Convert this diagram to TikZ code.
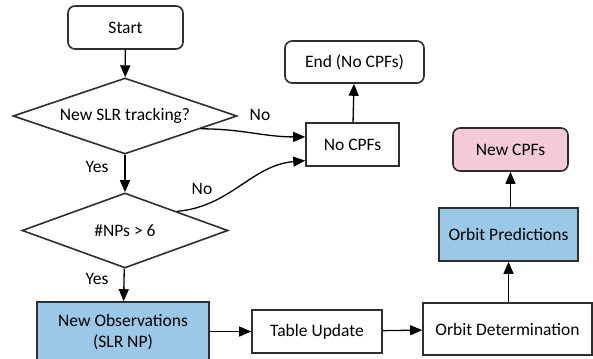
\documentclass[tikz,border=0pt]{standalone}
\usepackage{fontspec}
\setmainfont{Carlito}
\usetikzlibrary{shapes.geometric,arrows.meta,calc}
\definecolor{boxblue}{HTML}{9BC8E6}
\definecolor{boxpink}{HTML}{F2CAD8}
\definecolor{edgegray}{HTML}{2E2E2E}
\begin{document}
\begin{tikzpicture}[x=1pt,y=-1pt,
  font=\fontsize{17.5}{21}\selectfont,
  base/.style={draw=edgegray,line width=1.6pt,inner sep=0pt,align=center},
  rbox/.style={base,rounded corners=7pt,rectangle},
  sbox/.style={base,rectangle},
  dbox/.style={base,diamond,aspect=3},
  conn/.style={line width=1.3pt,-{Triangle[length=12pt,width=10pt]}},
  lbl/.style={inner sep=0pt}]
\clip (0,0) rectangle (593,358);
\fill[white] (0,0) rectangle (593,358);
\node[rbox,minimum width=115,minimum height=43] (start) at (125.5,27.5) {Start};
\node[dbox,minimum width=224,minimum height=76] (d1) at (125,116) {New SLR tracking?};
\node[dbox,minimum width=206,minimum height=75] (d2) at (125,230.5) {\#NPs > 6};
\node[rbox,minimum width=139,minimum height=42] (endn) at (354.5,62) {End (No CPFs)};
\node[sbox,minimum width=93,minimum height=43] (nocpf) at (352.5,144.5) {No CPFs};
\node[rbox,fill=boxpink,minimum width=115,minimum height=43] (newcpf) at (510.5,149.5) {New CPFs};
\node[sbox,fill=boxblue,minimum width=172,minimum height=60] (obs) at (123,332) {New Observations\\(SLR NP)};
\node[sbox,minimum width=130,minimum height=43] (table) at (317,331.5) {Table Update};
\node[sbox,minimum width=169,minimum height=52] (od) at (507.5,329) {Orbit Determination};
\node[sbox,fill=boxblue,minimum width=139,minimum height=53] (op) at (508.5,234.5) {Orbit Predictions};
\node[lbl] (no1) at (260,115) {No};
\node[lbl] (yes1) at (97,167) {Yes};
\node[lbl] (no2) at (202,189) {No};
\node[lbl] (yes2) at (97,279) {Yes};
\draw[conn] (start) -- (d1);
\draw[conn] (d1) -- (d2);
\draw[conn] (d2) -- (obs);
\draw[conn] ($(d1.east)!0.33!(d1.south)$) to[out=0,in=180] ($(nocpf.north west)!0.33!(nocpf.south west)$);
\draw[conn] (d2.north east) to[out=5,in=185] ($(nocpf.north west)!0.86!(nocpf.south west)$);
\draw[conn] (nocpf) -- (endn);
\draw[conn] (obs.east |- table.west) -- (table.west);
\draw[conn] (table) -- (od);
\draw[conn] (od.north -| op.south) -- (op.south);
\draw[conn] (op.north -| newcpf.south) -- (newcpf.south);
\end{tikzpicture}
\end{document}
